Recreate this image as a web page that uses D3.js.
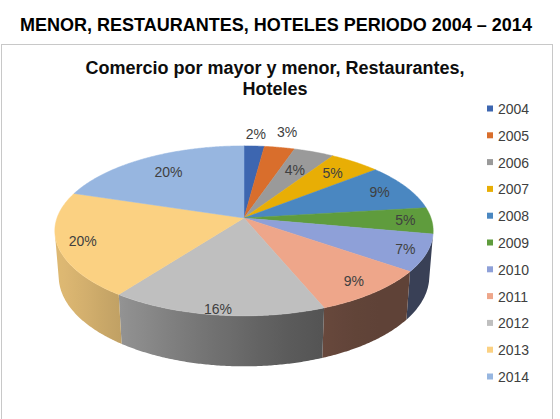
<!DOCTYPE html>
<html>
<head>
<meta charset="utf-8">
<script src="https://cdn.jsdelivr.net/npm/d3@7"></script>
<style>
  body { margin: 0; background: #fff; }
  svg { display: block; font-family: "Liberation Sans", Arial, sans-serif; }
</style>
</head>
<body>
<div id="wrapper"></div>
<script>
// Data
const years = ["2004", "2005", "2006", "2007", "2008", "2009", "2010", "2011", "2012", "2013", "2014"]
const shares = [2, 3, 4, 5, 9, 5, 7, 9, 16, 20, 20]
const sliceColors = ["#3d66b0", "#d96e2c", "#9a9a9a", "#e8ae05", "#4a87c1", "#5f9c3d",
                     "#8ea0d8", "#eea68a", "#bfbfbf", "#fbd182", "#97b6e0"]
// where each percent label sits, as a fraction of the pie radius
const labelRadius = [1.2, 1.25, 0.7, 0.78, 0.83, 0.86, 0.89, 0.86, 0.95, 0.87, 0.75]

function drawChart() {

  // 1. Dimensions
  const dimensions = { width: 560, height: 419 }

  // 3d pie: disk of radius 1 tilted toward the viewer, seen in perspective
  const pie3d = {
    cx: 244,
    cy: 218,
    k: 187,
    dist: 5.92,
    tilt: Math.asin(0.444),
    depth: 0.274,
  }

  const project = (angle, r, y) => {
    const X = r * Math.sin(angle)
    const Z = r * Math.cos(angle)
    const Y2 = y * Math.cos(pie3d.tilt) + Z * Math.sin(pie3d.tilt)
    const Z2 = -y * Math.sin(pie3d.tilt) + Z * Math.cos(pie3d.tilt)
    const s = pie3d.dist / (pie3d.dist + Z2)
    return [pie3d.cx + pie3d.k * X * s, pie3d.cy - pie3d.k * Y2 * s, Z2]
  }

  // the wall faces the camera only where cos(a) < -1 / (dist * cos(tilt))
  const edge = Math.acos(-1 / (pie3d.dist * Math.cos(pie3d.tilt)))
  const frontStart = edge
  const frontEnd = 2 * Math.PI - edge

  // 2. Canvas
  const wrapper = d3.select("#wrapper")
    .append("svg")
      .attr("width", dimensions.width)
      .attr("height", dimensions.height)

  wrapper.append("text")
      .attr("x", 276)
      .attr("y", 31)
      .attr("text-anchor", "middle")
      .style("font-size", "18px")
      .style("font-weight", "bold")
      .text("MENOR, RESTAURANTES, HOTELES PERIODO 2004 – 2014")

  wrapper.append("rect")
      .attr("x", 1.5)
      .attr("y", 44.5)
      .attr("width", 551)
      .attr("height", 390)
      .attr("fill", "#fff")
      .attr("stroke", "#c8c8c8")

  const chartTitle = wrapper.append("text")
      .attr("text-anchor", "middle")
      .style("font-size", "18px")
      .style("font-weight", "bold")
      .attr("fill", "#0d0d0d")
  chartTitle.append("tspan").attr("x", 275).attr("y", 74).text("Comercio por mayor y menor, Restaurantes,")
  chartTitle.append("tspan").attr("x", 275).attr("y", 95).text("Hoteles")

  // 3. Pie layout
  const pieGenerator = d3.pie().sort(null).value(d => d)
  const arcs = pieGenerator(shares)

  const defs = wrapper.append("defs")
  const bounds = wrapper.append("g")

  // light falls from the left: walls darken toward the right
  const shade = angle => {
    const deg = angle * 180 / Math.PI
    const t = Math.max(0, Math.min(1, (deg - 140) / 110))
    return 0.4 + 0.48 * t * t * (3 - 2 * t)
  }

  const xLeft = project(frontEnd, 1, 0)[0]
  const xRight = project(frontStart, 1, 0)[0]

  const walls = arcs
    .map((a, i) => ({
      index: i,
      start: Math.max(a.startAngle, frontStart),
      end: Math.min(a.endAngle, frontEnd),
    }))
    .filter(w => w.end > w.start)

  walls.forEach(w => {
    const base = d3.rgb(sliceColors[w.index])
    const grad = defs.append("linearGradient")
        .attr("id", `wall-${w.index}`)
        .attr("gradientUnits", "userSpaceOnUse")
        .attr("x1", xLeft).attr("x2", xRight)
        .attr("y1", 0).attr("y2", 0)
    d3.range(0, 41).forEach(j => {
      const a = frontEnd - (frontEnd - frontStart) * j / 40
      const f = shade(a)
      grad.append("stop")
          .attr("offset", (project(a, 1, 0)[0] - xLeft) / (xRight - xLeft))
          .attr("stop-color", d3.rgb(base.r * f, base.g * f, base.b * f).formatHex())
    })
  })

  const wallPath = w => {
    const n = Math.max(4, Math.ceil((w.end - w.start) / (Math.PI / 360)))
    const top = d3.range(n + 1).map(j => project(w.start + (w.end - w.start) * j / n, 1, 0))
    const bottom = d3.range(n + 1).map(j => project(w.end - (w.end - w.start) * j / n, 1, -pie3d.depth))
    return "M" + top.concat(bottom).map(p => p[0] + "," + p[1]).join("L") + "Z"
  }

  bounds.selectAll(".wall")
    .data(walls)
    .enter().append("path")
      .attr("class", "wall")
      .attr("d", wallPath)
      .attr("fill", w => `url(#wall-${w.index})`)

  // top faces
  const topPath = a => {
    const n = Math.max(4, Math.ceil((a.endAngle - a.startAngle) / (Math.PI / 360)))
    const pts = [project(0, 0, 0)]
    for (let j = 0; j <= n; j++) {
      pts.push(project(a.startAngle + (a.endAngle - a.startAngle) * j / n, 1, 0))
    }
    return "M" + pts.map(p => p[0] + "," + p[1]).join("L") + "Z"
  }

  bounds.selectAll(".slice")
    .data(arcs)
    .enter().append("path")
      .attr("class", "slice")
      .attr("d", topPath)
      .attr("fill", (d, i) => sliceColors[i])
      .attr("stroke", (d, i) => sliceColors[i])
      .attr("stroke-width", 0.5)

  // 4. Labels
  const formatPct = d3.format(".0%")
  const total = d3.sum(shares)

  bounds.selectAll(".label")
    .data(arcs)
    .enter().append("text")
      .attr("class", "label")
      .attr("x", (d, i) => project((d.startAngle + d.endAngle) / 2, labelRadius[i], 0)[0])
      .attr("y", (d, i) => project((d.startAngle + d.endAngle) / 2, labelRadius[i], 0)[1])
      .attr("dy", "0.35em")
      .attr("text-anchor", "middle")
      .attr("fill", "#404040")
      .style("font-size", "14px")
      .text(d => formatPct(d.value / total))

  // 5. Legend
  const legendY = d3.scalePoint()
    .domain(years)
    .range([109, 377])

  const legend = wrapper.append("g")
    .selectAll("g")
    .data(years)
    .enter().append("g")
      .attr("transform", d => `translate(0, ${legendY(d)})`)

  legend.append("rect")
      .attr("x", 487)
      .attr("y", -3.5)
      .attr("width", 6)
      .attr("height", 6)
      .attr("fill", (d, i) => sliceColors[i])

  legend.append("text")
      .attr("x", 498)
      .attr("dy", "0.35em")
      .attr("fill", "#404040")
      .style("font-size", "14px")
      .text(d => d)
}
drawChart()
</script>
</body>
</html>
